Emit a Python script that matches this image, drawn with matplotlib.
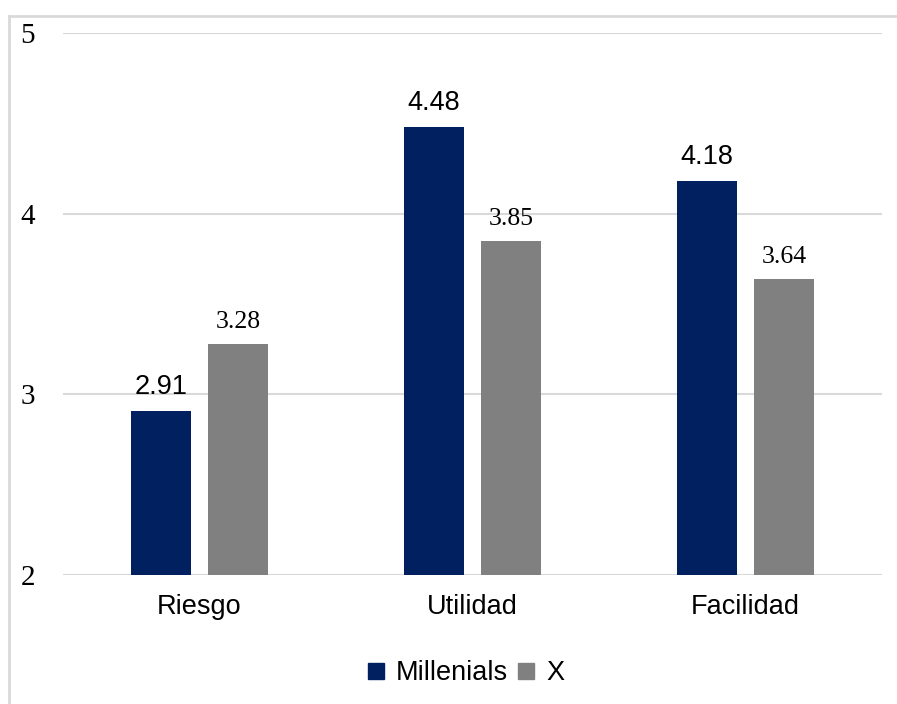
import matplotlib
matplotlib.use("Agg")
import matplotlib.pyplot as plt
import numpy as np
from matplotlib.lines import Line2D

categories = ["Riesgo", "Utilidad", "Facilidad"]
series_names = ["Millenials", "X"]
millenials = [2.91, 4.48, 4.18]
gen_x = [3.28, 3.85, 3.64]
y_ticks = [2, 3, 4, 5]

navy = "#002060"
gray = "#808080"
grid_color = "#d9d9d9"

sans = ["Liberation Sans", "DejaVu Sans"]
serif = ["Liberation Serif", "DejaVu Serif"]

fig = plt.figure(figsize=(8.97, 7.04), dpi=100)
ax = fig.add_axes([0.0702, 0.1832, 0.9131, 0.7699])

x = np.arange(len(categories))
width = 0.223
offset = 0.141

bars_m = ax.bar(x - offset, millenials, width, bottom=0, color=navy, label=series_names[0], zorder=3)
bars_x = ax.bar(x + offset, gen_x, width, bottom=0, color=gray, label=series_names[1], zorder=3)

for rect, v in zip(bars_m, millenials):
    ax.annotate(f"{v:.2f}", (rect.get_x() + rect.get_width() / 2, v),
                xytext=(0, 8), textcoords="offset points", ha="center", va="bottom",
                fontsize=19.5, family=sans, color="black")
for rect, v in zip(bars_x, gen_x):
    ax.annotate(f"{v:.2f}", (rect.get_x() + rect.get_width() / 2, v),
                xytext=(0, 8), textcoords="offset points", ha="center", va="bottom",
                fontsize=18.5, family=serif, color="black")

ax.set_xlim(-0.5, 2.5)
ax.set_ylim(2, 5)
ax.set_yticks(y_ticks)
ax.set_yticklabels([str(t) for t in y_ticks], family=serif, fontsize=21)
ax.set_xticks(x)
ax.set_xticklabels(categories, family=sans, fontsize=19.5)
ax.tick_params(axis="y", length=0, pad=20)
ax.tick_params(axis="x", length=0, pad=14)

ax.yaxis.grid(True, color=grid_color, linewidth=1.5, zorder=0)
for s in ax.spines.values():
    s.set_visible(False)

handles = [Line2D([0], [0], marker="s", linestyle="none", markersize=11,
                  markerfacecolor=c, markeredgecolor=c) for c in (navy, gray)]
fig.legend(handles, series_names, loc="center", bbox_to_anchor=(0.518, 0.044),
           ncol=2, frameon=False, prop={"family": sans, "size": 19.5},
           handletextpad=0.35, columnspacing=0.25, handlelength=0.8)

# Outer frame (left and top edges)
fig.add_artist(Line2D([9 / 897, 9 / 897], [0, 1 - 16 / 704], transform=fig.transFigure,
                      color=grid_color, linewidth=2))
fig.add_artist(Line2D([9 / 897, 1], [1 - 16 / 704, 1 - 16 / 704], transform=fig.transFigure,
                      color=grid_color, linewidth=2))

fig.savefig("out.png", dpi=100, facecolor="white")
